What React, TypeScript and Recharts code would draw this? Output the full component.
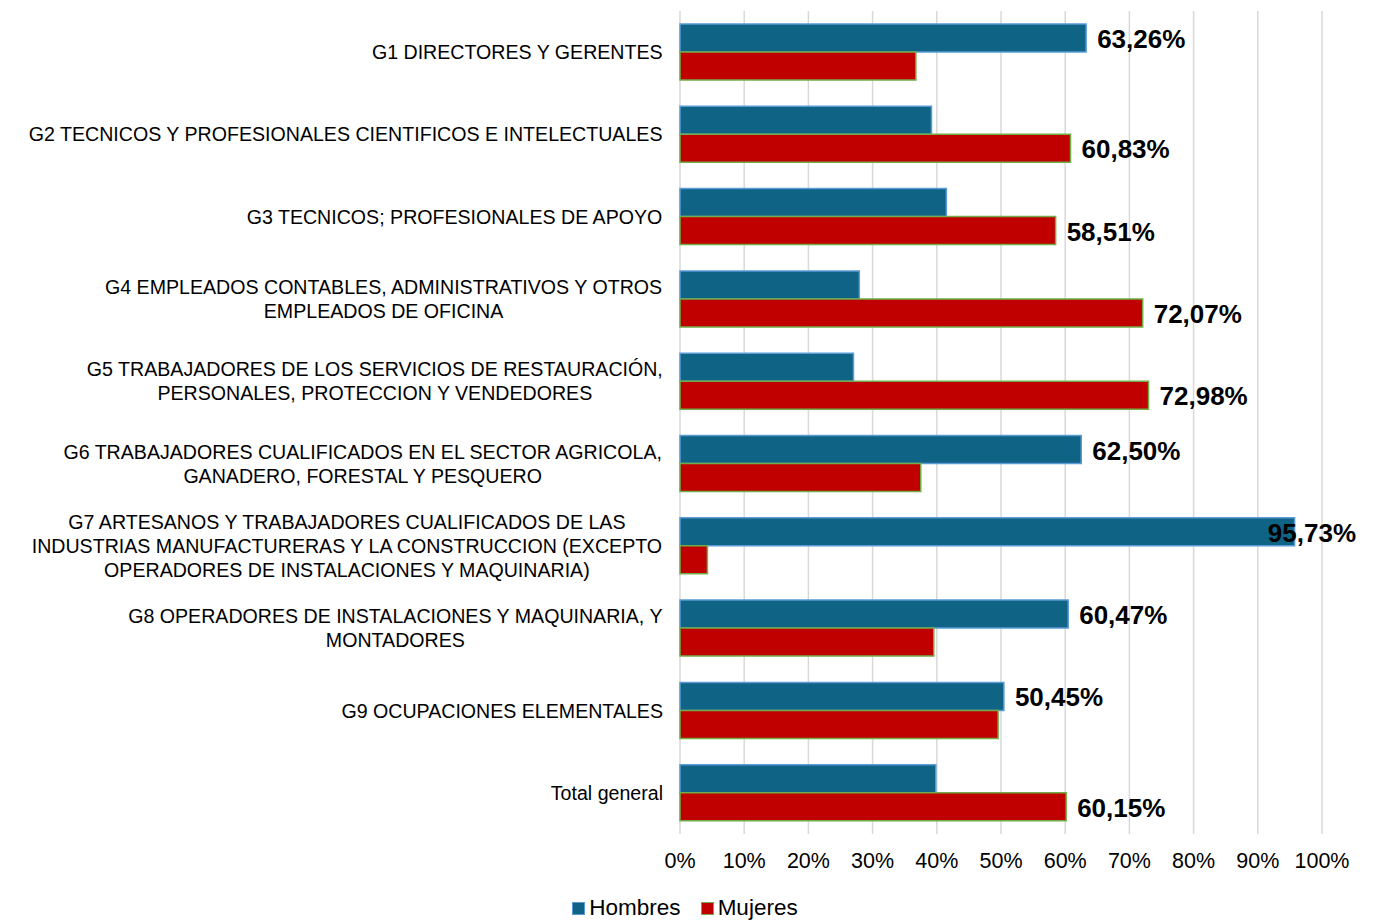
import { BarChart, Bar, XAxis, YAxis, CartesianGrid, Legend, LabelList } from 'recharts';

const categories = [
  'G1 DIRECTORES Y GERENTES',
  'G2 TECNICOS Y PROFESIONALES CIENTIFICOS E INTELECTUALES',
  'G3 TECNICOS; PROFESIONALES DE APOYO',
  'G4 EMPLEADOS CONTABLES, ADMINISTRATIVOS Y OTROS\nEMPLEADOS DE OFICINA',
  'G5 TRABAJADORES DE LOS SERVICIOS DE RESTAURACIÓN,\nPERSONALES, PROTECCION Y VENDEDORES',
  'G6 TRABAJADORES CUALIFICADOS EN EL SECTOR AGRICOLA,\nGANADERO, FORESTAL Y PESQUERO',
  'G7 ARTESANOS Y TRABAJADORES CUALIFICADOS DE LAS\nINDUSTRIAS MANUFACTURERAS Y LA CONSTRUCCION (EXCEPTO\nOPERADORES DE INSTALACIONES Y MAQUINARIA)',
  'G8 OPERADORES DE INSTALACIONES Y MAQUINARIA, Y\nMONTADORES',
  'G9 OCUPACIONES ELEMENTALES',
  'Total general',
];
const hombres = [63.26, 39.17, 41.49, 27.93, 27.02, 62.5, 95.73, 60.47, 50.45, 39.85];
const mujeres = [36.74, 60.83, 58.51, 72.07, 72.98, 37.5, 4.27, 39.53, 49.55, 60.15];
const xTicks = [0, 10, 20, 30, 40, 50, 60, 70, 80, 90, 100];

const data = categories.map((name, i) => ({ name, hombres: hombres[i], mujeres: mujeres[i] }));

const FONT = '"Liberation Sans", Arial, sans-serif';
const BLUE = '#0f6385';
const RED = '#c00000';

let ctx: CanvasRenderingContext2D | null = null;
function textWidth(text: string, font: string) {
  if (!ctx) ctx = document.createElement('canvas').getContext('2d');
  if (!ctx) return text.length * 10;
  ctx.font = font;
  return ctx.measureText(text).width;
}

const CategoryTick = (props: any) => {
  const { x, y, payload } = props;
  const lines: string[] = String(payload.value).split('\n');
  const lh = 24;
  const maxW = Math.max(...lines.map((l) => textWidth(l, `19.6px ${FONT}`)));
  const cx = x - 9 - maxW / 2;
  const startY = y - ((lines.length - 1) * lh) / 2;
  return (
    <text x={cx} y={startY} textAnchor="middle" fontSize={19.6} fontFamily={FONT} fill="#000">
      {lines.map((l, i) => (
        <tspan key={i} x={cx} y={startY + i * lh} dominantBaseline="central">
          {l}
        </tspan>
      ))}
    </text>
  );
};

const ValueLabel = (props: any) => {
  const { x, y, width, height, value } = props;
  if (value < 50) return null;
  const txt = value.toFixed(2).replace('.', ',') + '%';
  const w = textWidth(txt, `bold 26px ${FONT}`);
  const tx = Math.min(x + width + 11, 1356 - w);
  return (
    <text x={tx} y={y + height / 2 + 1} dominantBaseline="central" fontSize={26} fontWeight="bold" fontFamily={FONT} fill="#000">
      {txt}
    </text>
  );
};

const LegendContent = () => (
  <div style={{ display: 'flex', justifyContent: 'center', alignItems: 'center', paddingTop: 13, paddingLeft: 48, fontFamily: FONT, fontSize: 22.5, color: '#000' }}>
    <span style={{ display: 'inline-block', width: 11, height: 11, background: BLUE, border: '1px solid #5b9bd5', marginRight: 4 }} />
    <span style={{ marginRight: 20 }}>Hombres</span>
    <span style={{ display: 'inline-block', width: 11, height: 11, background: RED, border: '1px solid #70ad47', marginRight: 4 }} />
    <span>Mujeres</span>
  </div>
);

export default function App() {
  return (
    <div style={{ position: 'absolute', left: 0, top: 0, background: '#fff' }}>
      <BarChart
        width={1389}
        height={922}
        data={data}
        layout="vertical"
        margin={{ top: 11, right: 67, left: 0, bottom: 0 }}
        barCategoryGap={13}
        barGap={0}
      >
        <CartesianGrid horizontal={false} stroke="#d9d9d9" strokeWidth={1.5} />
        <XAxis
          type="number"
          domain={[0, 100]}
          ticks={xTicks}
          tickFormatter={(v: number) => `${v}%`}
          axisLine={false}
          tickLine={false}
          tickMargin={13}
          height={48}
          tick={{ fontSize: 21.5, fontFamily: FONT, fill: '#000' }}
          interval={0}
        />
        <YAxis type="category" dataKey="name" width={680} axisLine={false} tickLine={false} tick={<CategoryTick />} interval={0} />
        <Legend verticalAlign="bottom" height={40} content={<LegendContent />} />
        <Bar dataKey="hombres" name="Hombres" fill={BLUE} stroke="#5b9bd5" strokeWidth={1.5} isAnimationActive={false}>
          <LabelList dataKey="hombres" content={<ValueLabel />} />
        </Bar>
        <Bar dataKey="mujeres" name="Mujeres" fill={RED} stroke="#70ad47" strokeWidth={1.5} isAnimationActive={false}>
          <LabelList dataKey="mujeres" content={<ValueLabel />} />
        </Bar>
      </BarChart>
    </div>
  );
}
